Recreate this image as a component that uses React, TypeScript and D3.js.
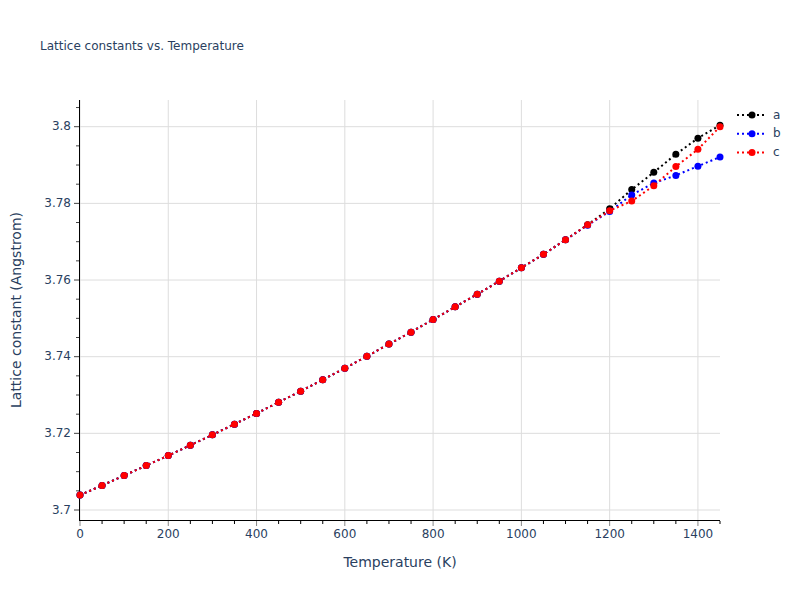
import React from "react";
import * as d3 from "d3";

const temperatures = [0,50,100,150,200,250,300,350,400,450,500,550,600,650,700,750,800,850,900,950,1000,1050,1100,1150,1200,1250,1300,1350,1400,1450];
const seriesA = [3.7039,3.7064,3.7090,3.7116,3.7142,3.7169,3.7196,3.7224,3.7252,3.7281,3.7310,3.7340,3.7370,3.7401,3.7433,3.7464,3.7497,3.7530,3.7563,3.7597,3.7632,3.7667,3.7705,3.7744,3.7786,3.7836,3.7881,3.7928,3.7970,3.8004];
const seriesB = [3.7039,3.7064,3.7090,3.7116,3.7142,3.7169,3.7196,3.7224,3.7252,3.7281,3.7310,3.7340,3.7370,3.7401,3.7433,3.7464,3.7497,3.7530,3.7563,3.7597,3.7632,3.7667,3.7705,3.7743,3.7779,3.7822,3.7853,3.7873,3.7897,3.7921];
const seriesC = [3.7039,3.7064,3.7090,3.7116,3.7142,3.7169,3.7196,3.7224,3.7252,3.7281,3.7310,3.7340,3.7370,3.7401,3.7433,3.7464,3.7497,3.7530,3.7563,3.7597,3.7632,3.7667,3.7705,3.7744,3.7781,3.7806,3.7846,3.7896,3.7941,3.8000];
const seriesNames = ["a", "b", "c"];
const seriesColors = ["#000000", "#0000ff", "#ff0000"];
const xTicks = [0, 200, 400, 600, 800, 1000, 1200, 1400];
const yTicks = [3.7, 3.72, 3.74, 3.76, 3.78, 3.8];

const W = 800, H = 600;
const M = { left: 80, right: 720, top: 100, bottom: 520 };
const FONT = '"DejaVu Sans", Verdana, sans-serif';
const TXT = "#2a3f5f";

export default function App() {
  const x = d3.scaleLinear().domain([0, 1450]).range([M.left, M.right]);
  const y = d3.scaleLinear().domain([3.7 - 10 / 3833, 3.8 + 26.7 / 3833]).range([M.bottom, M.top]);
  const all = [seriesA, seriesB, seriesC];
  const line = d3.line<[number, number]>().x(d => x(d[0])).y(d => y(d[1]));
  const xMinor = d3.range(0, 1451, 50).filter(v => v % 200 !== 0);
  const yMinor = d3.range(3.7, 3.8051, 0.005).filter(v => Math.abs(Math.round(v * 50) - v * 50) > 1e-6);
  const fmtY = (v: number) => String(+v.toFixed(3));

  return (
    <svg width={W} height={H} style={{ display: "block", position: "absolute", left: 0, top: 0, background: "#fff" }} fontFamily={FONT}>
      <rect x={0} y={0} width={W} height={H} fill="#fff" />
      <text x={40} y={50} fontSize={12} fill={TXT}>Lattice constants vs. Temperature</text>
      {/* grid */}
      {xTicks.map(t => (
        <line key={"gx" + t} x1={x(t)} x2={x(t)} y1={M.top} y2={M.bottom} stroke="#dddddd" strokeWidth={1} />
      ))}
      {yTicks.map(t => (
        <line key={"gy" + t} x1={M.left} x2={M.right} y1={y(t)} y2={y(t)} stroke="#dddddd" strokeWidth={1} />
      ))}
      {/* axes */}
      <line x1={M.left - 0.5} x2={M.left - 0.5} y1={M.top} y2={M.bottom + 1} stroke="#000" strokeWidth={1} />
      <line x1={M.left - 1} x2={M.right} y1={M.bottom + 0.5} y2={M.bottom + 0.5} stroke="#000" strokeWidth={1} />
      {xTicks.map(t => (
        <g key={"xt" + t}>
          <line x1={x(t)} x2={x(t)} y1={M.bottom + 1} y2={M.bottom + 6} stroke="#888" strokeWidth={1} />
          <text x={x(t)} y={M.bottom + 14} fontSize={12} fill={TXT} textAnchor="middle" dominantBaseline="middle">{t}</text>
        </g>
      ))}
      {xMinor.map(t => (
        <line key={"xm" + t} x1={x(t)} x2={x(t)} y1={M.bottom + 1} y2={M.bottom + 4} stroke="#000" strokeWidth={1} />
      ))}
      {yTicks.map(t => (
        <g key={"yt" + t}>
          <line x1={M.left - 6} x2={M.left - 1} y1={y(t)} y2={y(t)} stroke="#444" strokeWidth={1} />
          <text x={M.left - 9} y={y(t)} fontSize={12} fill={TXT} textAnchor="end" dominantBaseline="middle">{fmtY(t)}</text>
        </g>
      ))}
      {yMinor.map(t => (
        <line key={"ym" + t} x1={M.left - 4} x2={M.left - 1} y1={y(t)} y2={y(t)} stroke="#444" strokeWidth={1} />
      ))}
      <text x={(M.left + M.right) / 2} y={567} fontSize={14} fill={TXT} textAnchor="middle">Temperature (K)</text>
      <text transform={`translate(21,${(M.top + M.bottom) / 2}) rotate(-90)`} fontSize={14} fill={TXT} textAnchor="middle">Lattice constant (Angstrom)</text>
      {/* series */}
      <g>
        {all.map((s, i) => {
          const pts = temperatures.map((t, j) => [t, s[j]] as [number, number]);
          return (
            <g key={"s" + i}>
              <path d={line(pts) || ""} fill="none" stroke={seriesColors[i]} strokeWidth={2} strokeDasharray="2,3" />
              {pts.map((p, j) => (
                <circle key={j} cx={x(p[0])} cy={y(p[1])} r={3.5} fill={seriesColors[i]} />
              ))}
            </g>
          );
        })}
      </g>
      {/* legend */}
      {seriesNames.map((n, i) => {
        const ly = 115 + i * 18.7;
        return (
          <g key={"lg" + n}>
            <line x1={737} x2={767} y1={ly} y2={ly} stroke={seriesColors[i]} strokeWidth={2} strokeDasharray="2,3" />
            <circle cx={752} cy={ly} r={3.5} fill={seriesColors[i]} />
            <text x={773} y={ly} fontSize={12} fill={TXT} dominantBaseline="middle">{n}</text>
          </g>
        );
      })}
    </svg>
  );
}
